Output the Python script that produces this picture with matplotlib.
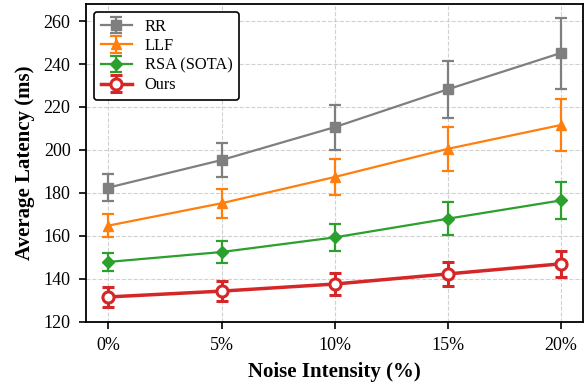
import numpy as np
import matplotlib
matplotlib.use('Agg')
import matplotlib.pyplot as plt

plt.rcParams['font.family'] = ['Liberation Serif', 'DejaVu Serif']
plt.rcParams['mathtext.fontset'] = 'stix'

noise_labels = ['0%', '5%', '10%', '15%', '20%']

rr_mean = [182.5, 195.3, 210.6, 228.2, 245.1]
rr_err = [6.2, 8.1, 10.5, 13.2, 16.5]
llf_mean = [164.8, 175.2, 187.4, 200.5, 211.6]
llf_err = [5.4, 6.8, 8.5, 10.3, 12.1]
rsa_mean = [147.9, 152.5, 159.3, 168.0, 176.5]
rsa_err = [4.3, 5.0, 6.3, 7.6, 8.5]
ours_mean = [131.6, 134.3, 137.6, 142.3, 147.0]
ours_err = [4.6, 4.8, 5.2, 5.6, 6.0]

x = np.arange(len(noise_labels))

fig = plt.figure(figsize=(5.88, 3.85), dpi=100)
ax = fig.add_axes([0.146, 0.164, 0.846, 0.826])

ax.errorbar(x, rr_mean, yerr=rr_err, color='#7f7f7f', marker='s', markersize=7,
            linewidth=1.6, capsize=4, elinewidth=1.6, capthick=1.6, label='RR', zorder=3)
ax.errorbar(x, llf_mean, yerr=llf_err, color='#ff7f0e', marker='^', markersize=7,
            linewidth=1.6, capsize=4, elinewidth=1.6, capthick=1.6, label='LLF', zorder=3)
ax.errorbar(x, rsa_mean, yerr=rsa_err, color='#2ca02c', marker='D', markersize=6.5,
            linewidth=1.6, capsize=4, elinewidth=1.6, capthick=1.6, label='RSA (SOTA)', zorder=3)
ax.errorbar(x, ours_mean, yerr=ours_err, color='#d62728', marker='o', markersize=8,
            markerfacecolor='white', markeredgewidth=2.2,
            linewidth=2.5, capsize=4, elinewidth=2.2, capthick=2.2, label='Ours', zorder=4)

ax.set_xticks(x)
ax.set_xticklabels(noise_labels)
ax.set_xlim(-0.2, 4.2)
ax.set_ylim(120, 268)
ax.set_yticks(np.arange(120, 261, 20))
ax.tick_params(labelsize=13, width=1.2, length=5, pad=6)
for s in ax.spines.values():
    s.set_linewidth(1.3)

ax.grid(True, linestyle='--', color='#cccccc', linewidth=0.8, alpha=0.9)
ax.set_axisbelow(True)

ax.set_xlabel('Noise Intensity (%)', fontsize=15, fontweight='bold', labelpad=6)
ax.set_ylabel('Average Latency (ms)', fontsize=15, fontweight='bold', labelpad=6)

leg = ax.legend(loc='upper left', fontsize=11.8, frameon=True, edgecolor='black',
                fancybox=True, framealpha=1.0, labelspacing=0.22, handlelength=1.9)
leg.get_frame().set_linewidth(1.2)

fig.savefig('out.png', dpi=100)
